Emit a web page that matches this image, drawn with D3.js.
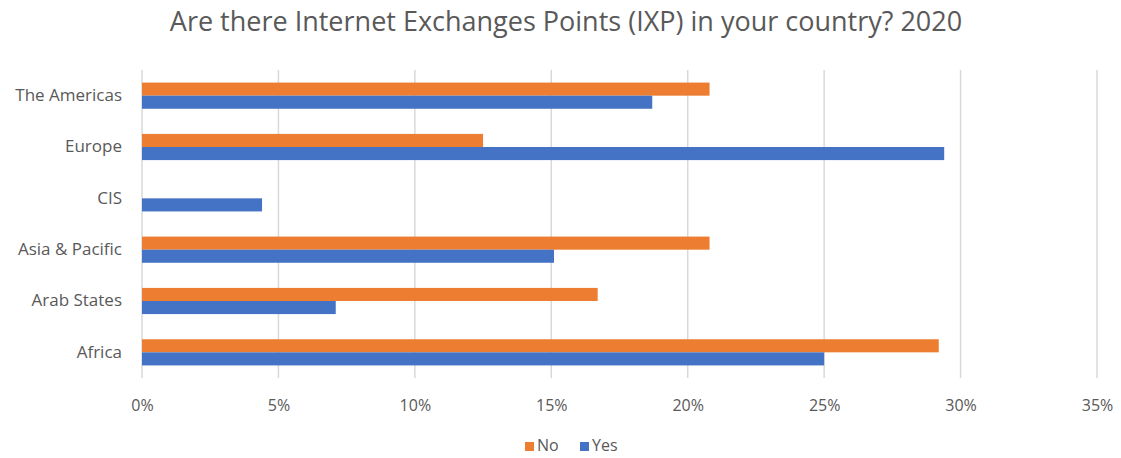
<!DOCTYPE html>
<html><head><meta charset="utf-8">
<script src="https://cdn.jsdelivr.net/npm/d3@7"></script>
<style>body{margin:0;background:#fff}svg{display:block}text{font-family:"Open Sans",sans-serif;fill:#595959}</style>
</head><body><svg id="c" width="1121" height="458"></svg>
<script>
const categories = ["The Americas","Europe","CIS","Asia & Pacific","Arab States","Africa"];
const seriesNames = ["No","Yes"];
const noValues = [20.8, 12.5, 0, 20.8, 16.7, 29.2];
const yesValues = [18.7, 29.4, 4.4, 15.1, 7.1, 25.0];
const xTicks = [0,5,10,15,20,25,30,35];
const colors = {No:"#ed7d31", Yes:"#4472c4"};

const svg = d3.select("#c");
const x = d3.scaleLinear().domain([0,35]).range([142,1097]);
const y = d3.scaleBand().domain(categories).range([70,378]).paddingInner(0.49).paddingOuter(0.245);
const sub = d3.scaleBand().domain(seriesNames).range([0,y.bandwidth()]);

// gridlines
svg.append("g").selectAll("line").data(xTicks).join("line")
  .attr("x1",d=>x(d)).attr("x2",d=>x(d)).attr("y1",70).attr("y2",378)
  .attr("stroke","#d9d9d9").attr("stroke-width",1.5);

const data = categories.map((c,i)=>({c, No:noValues[i], Yes:yesValues[i]}));
const g = svg.append("g");
data.forEach(d=>{
  seriesNames.forEach(s=>{
    if(d[s]>0) g.append("rect").attr("x",x(0)).attr("y",y(d.c)+sub(s))
      .attr("width",x(d[s])-x(0)).attr("height",sub.bandwidth()).attr("fill",colors[s]);
  });
});

// axes
const xa = svg.append("g").attr("transform","translate(0,404)")
  .call(d3.axisBottom(x).tickValues(xTicks).tickFormat(d=>d+"%").tickSize(0));
xa.select(".domain").remove();
xa.selectAll("text").attr("dy",0).attr("dominant-baseline","middle").style("font-size","16px").style("fill","#595959").style("font-family","Open Sans");

const ya = svg.append("g").attr("transform","translate(122,0)")
  .call(d3.axisLeft(y).tickSize(0).tickPadding(0));
ya.select(".domain").remove();
ya.selectAll("text").style("font-size","17px").style("fill","#595959").style("font-family","Open Sans");

// title
svg.append("text").attr("x",566).attr("y",24).attr("text-anchor","middle")
  .attr("dominant-baseline","middle").style("font-size","27px")
  .text("Are there Internet Exchanges Points (IXP) in your country? 2020");

// legend
const lg = svg.append("g");
const legendPos = [{s:"No",x:525},{s:"Yes",x:580}];
legendPos.forEach(p=>{
  lg.append("rect").attr("x",p.x).attr("y",442).attr("width",9).attr("height",9).attr("fill",colors[p.s]);
  lg.append("text").attr("x",p.x+12).attr("y",447).attr("dominant-baseline","middle").style("font-size","16px").text(p.s);
});
</script></body></html>
